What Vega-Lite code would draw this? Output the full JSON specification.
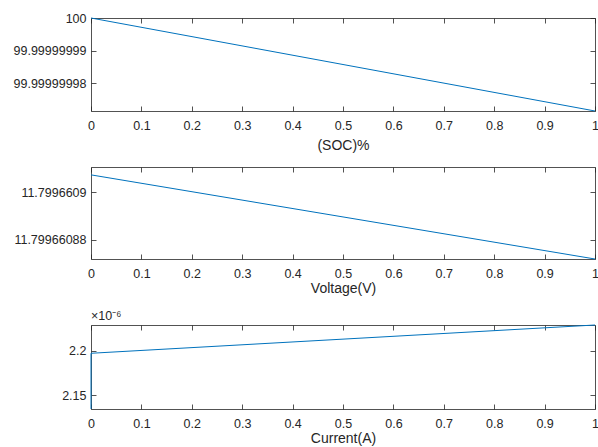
{
  "$schema": "https://vega.github.io/schema/vega-lite/v6.json",
  "background": "white",
  "padding": {"left": 13, "top": 12, "right": 0, "bottom": 1},
  "spacing": 13,
  "datasets": {
    "soc": [{"t": 0, "v": 100}, {"t": 1, "v": 99.9999999716}],
    "volt": [{"t": 0, "v": 11.7996609073}, {"t": 1, "v": 11.799660872}],
    "cur": [{"t": 0, "o": 0, "v": 0.0000021345}, {"t": 0, "o": 1, "v": 0.0000021974}, {"t": 1, "o": 2, "v": 0.0000022293}]
  },
  "config": {
    "view": {"stroke": null},
    "axis": {
      "domainColor": "#262626", "domainWidth": 0.8,
      "tickColor": "#262626", "tickWidth": 0.8, "tickSize": -5,
      "labelColor": "#262626", "labelFont": "Liberation Sans", "labelFontSize": 12.5,
      "titleColor": "#262626", "titleFont": "Liberation Sans", "titleFontSize": 14, "titleFontWeight": "normal",
      "grid": false
    },
    "axisX": {"labelPadding": 13, "labelFlush": false, "titlePadding": 2},
    "axisY": {"labelPadding": 10},
    "title": {"font": "Liberation Sans", "fontSize": 12.5, "fontWeight": "normal", "color": "#262626"}
  },
  "vconcat": [
    {
      "width": 504, "height": 93,
      "data": {"name": "soc"},
      "resolve": {"axis": {"x": "independent", "y": "independent"}},
      "layer": [
        {
          "mark": {"type": "line", "color": "#0072BD", "strokeWidth": 1},
          "encoding": {
            "x": {"field": "t", "type": "quantitative", "scale": {"domain": [0, 1], "nice": false},
                  "axis": {"values": [0,0.1,0.2,0.3,0.4,0.5,0.6,0.7,0.8,0.9,1], "title": "(SOC)%", "titlePadding": 7, "labelExpr": "format(datum.value, '.1~f')"}},
            "y": {"field": "v", "type": "quantitative", "scale": {"domain": [99.9999999716, 100], "nice": false, "zero": false},
                  "axis": {"values": [99.99999998, 99.99999999, 100], "title": null, "labelExpr": "format(datum.value, '.8~f')"}}
          }
        },
        {
          "mark": {"type": "line", "opacity": 0},
          "encoding": {
            "x": {"field": "t", "type": "quantitative", "axis": {"orient": "top", "values": [0,0.1,0.2,0.3,0.4,0.5,0.6,0.7,0.8,0.9,1], "labels": false, "title": null}},
            "y": {"field": "v", "type": "quantitative", "axis": {"orient": "right", "values": [99.99999998, 99.99999999, 100], "labels": false, "title": null}}
          }
        }
      ]
    },
    {
      "width": 504, "height": 92,
      "data": {"name": "volt"},
      "resolve": {"axis": {"x": "independent", "y": "independent"}},
      "layer": [
        {
          "mark": {"type": "line", "color": "#0072BD", "strokeWidth": 1},
          "encoding": {
            "x": {"field": "t", "type": "quantitative", "scale": {"domain": [0, 1], "nice": false},
                  "axis": {"values": [0,0.1,0.2,0.3,0.4,0.5,0.6,0.7,0.8,0.9,1], "title": "Voltage(V)", "labelExpr": "format(datum.value, '.1~f')"}},
            "y": {"field": "v", "type": "quantitative", "scale": {"domain": [11.799660872, 11.7996609106], "nice": false, "zero": false},
                  "axis": {"values": [11.79966088, 11.7996609], "title": null, "labelExpr": "format(datum.value, '.8~f')"}}
          }
        },
        {
          "mark": {"type": "line", "opacity": 0},
          "encoding": {
            "x": {"field": "t", "type": "quantitative", "axis": {"orient": "top", "values": [0,0.1,0.2,0.3,0.4,0.5,0.6,0.7,0.8,0.9,1], "labels": false, "title": null}},
            "y": {"field": "v", "type": "quantitative", "axis": {"orient": "right", "values": [11.79966088, 11.7996609], "labels": false, "title": null}}
          }
        }
      ]
    },
    {
      "width": 504, "height": 84,
      "data": {"name": "cur"},
      "title": {"text": "×10⁻⁶", "anchor": "start", "frame": "group", "offset": 1, "fontSize": 12.5},
      "resolve": {"axis": {"x": "independent", "y": "independent"}},
      "layer": [
        {
          "mark": {"type": "line", "color": "#0072BD", "strokeWidth": 1},
          "encoding": {
            "x": {"field": "t", "type": "quantitative", "scale": {"domain": [0, 1], "nice": false},
                  "axis": {"values": [0,0.1,0.2,0.3,0.4,0.5,0.6,0.7,0.8,0.9,1], "title": "Current(A)", "labelExpr": "format(datum.value, '.1~f')"}},
            "y": {"field": "v", "type": "quantitative", "scale": {"domain": [0.0000021345, 0.0000022293], "nice": false, "zero": false},
                  "axis": {"values": [0.00000215, 0.0000022], "title": null, "labelExpr": "format(datum.value * 1000000, '.2~f')"}},
            "order": {"field": "o"}
          }
        },
        {
          "mark": {"type": "line", "opacity": 0},
          "encoding": {
            "x": {"field": "t", "type": "quantitative", "axis": {"orient": "top", "values": [0,0.1,0.2,0.3,0.4,0.5,0.6,0.7,0.8,0.9,1], "labels": false, "title": null}},
            "y": {"field": "v", "type": "quantitative", "axis": {"orient": "right", "values": [0.00000215, 0.0000022], "labels": false, "title": null}},
            "order": {"field": "o"}
          }
        }
      ]
    }
  ]
}
